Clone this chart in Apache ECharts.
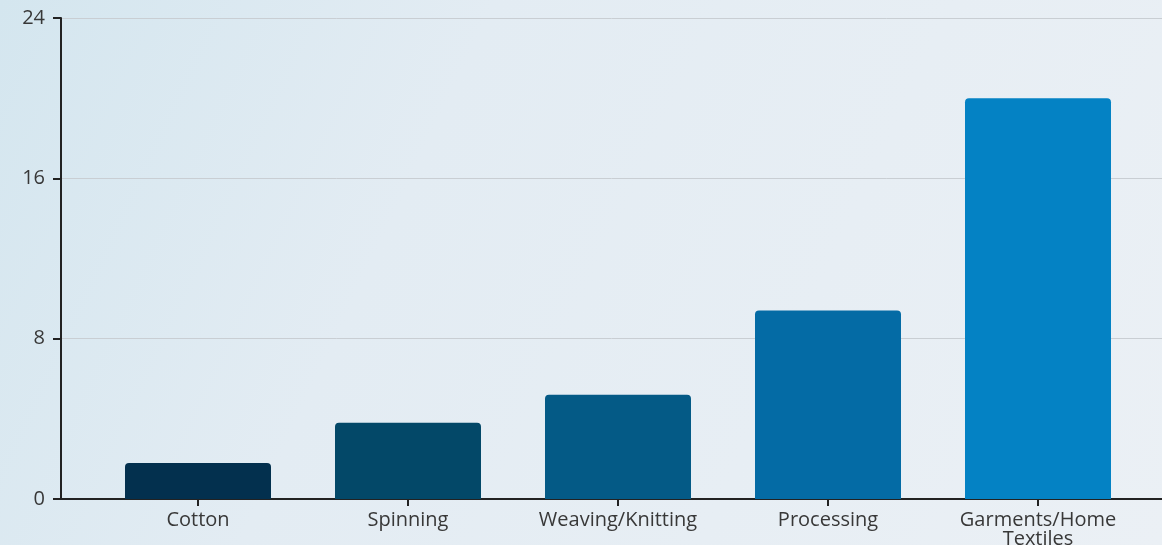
<!DOCTYPE html>
<html>
<head>
<meta charset="utf-8">
<script src="https://cdn.jsdelivr.net/npm/echarts@6/dist/echarts.min.js"></script>
<style>
html,body{margin:0;padding:0;width:1162px;height:545px;overflow:hidden;}
#c{width:1162px;height:545px;}
</style>
</head>
<body>
<div id="c"></div>
<script>
const categories = ['Cotton', 'Spinning', 'Weaving/Knitting', 'Processing', 'Garments/Home\nTextiles'];
const values = [1.8, 3.8, 5.2, 9.4, 20.0];
const barColors = ['#03304e', '#034868', '#045a86', '#046ba5', '#0482c4'];
const yTicks = [0, 8, 16, 24];

const positions = categories.map((c, i) => i);
const chart = echarts.init(document.getElementById('c'), null, {renderer: 'canvas'});
chart.setOption({
  backgroundColor: {
    type: 'linear', x: 0, y: 0, x2: 1, y2: 1,
    colorStops: [
      {offset: 0, color: '#d4e6ef'},
      {offset: 0.35, color: '#e3ecf3'},
      {offset: 1, color: '#ebf0f5'}
    ]
  },
  animation: false,
  grid: {left: 61, right: 0, top: 18, bottom: 46, containLabel: false, outerBoundsMode: 'none'},
  xAxis: {
    type: 'value',
    min: (61 - 198) / 210,
    max: 4 + (1162 - 1038) / 210,
    splitLine: {show: false},
    axisLine: {show: true, onZero: false, lineStyle: {color: '#222', width: 2}},
    axisTick: {show: true, length: 7, customValues: positions, lineStyle: {color: '#222', width: 2}},
    axisLabel: {
      customValues: positions,
      formatter: v => categories[Math.round(v)] || '',
      color: '#383838', fontSize: 20, fontFamily: 'Open Sans', margin: 12, lineHeight: 19
    }
  },
  yAxis: {
    type: 'value',
    min: 0, max: 24, interval: 8,
    axisLine: {show: true, onZero: false, lineStyle: {color: '#222', width: 2}},
    axisTick: {show: true, length: 8, lineStyle: {color: '#222', width: 2}},
    axisLabel: {
      color: '#383838', fontSize: 20, fontFamily: 'Open Sans', margin: 16,
      formatter: v => yTicks.includes(v) ? String(v) : ''
    },
    splitLine: {show: true, lineStyle: {color: '#c9ced3', width: 1}}
  },
  series: [{
    type: 'bar',
    barWidth: 146,
    data: categories.map((c, i) => ({
      value: [i, values[i]],
      itemStyle: {color: barColors[i], borderRadius: [4, 4, 0, 0]}
    }))
  }]
});
</script>
</body>
</html>
